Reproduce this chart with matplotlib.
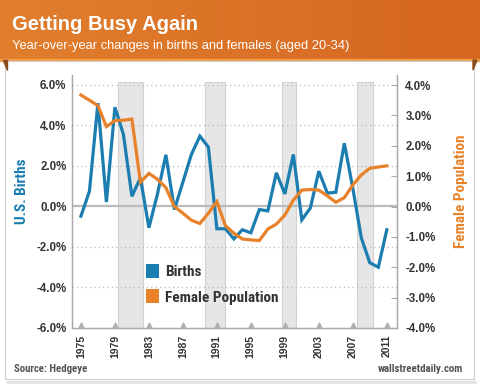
import numpy as np
import matplotlib
matplotlib.use("Agg")
from matplotlib import pyplot as plt
from matplotlib.patches import Patch, Rectangle, Polygon
from matplotlib.colors import LinearSegmentedColormap

years = np.arange(1975, 2012)
births = [-0.48, 0.75, 5.1, 0.22, 4.9, 3.56, 0.5, 1.42, -1.05, 0.6,
          2.55, -0.15, 1.2, 2.57, 3.47, 2.93, -1.1, -1.1, -1.6, -1.15,
          -1.3, -0.15, -0.22, 1.66, 0.62, 2.57, -0.66, -0.08, 1.74, 0.66,
          0.7, 3.12, 0.9, -1.55, -2.78, -3.0, -1.15]
female = [3.67, 3.5, 3.32, 2.63, 2.83, 2.84, 2.88, 0.8, 1.09, 0.9,
          0.62, 0.0, -0.22, -0.45, -0.56, -0.22, 0.16, -0.63, -0.88, -1.07,
          -1.1, -1.12, -0.74, -0.58, -0.28, 0.21, 0.54, 0.56, 0.54, 0.35,
          0.14, 0.29, 0.71, 1.04, 1.26, 1.3, 1.34]
recessions = [(1979.4, 1982.3), (1989.6, 1992.0), (1998.7, 2000.3), (2007.5, 2009.4)]
xticks = list(range(1975, 2012, 4))
left_ticks = [-6, -4, -2, 0, 2, 4, 6]
right_ticks = [-4, -3, -2, -1, 0, 1, 2, 3, 4]

blue = "#1b7db0"
orange = "#e8822a"
dark = "#333333"
grey = "#bbbbbb"
fam = ["Liberation Sans", "DejaVu Sans"]
cond = ["Roboto Condensed", "Liberation Sans", "DejaVu Sans"]

fig = plt.figure(figsize=(4.8, 3.84), dpi=100)
fig.patch.set_facecolor("white")

# decoration: header band and card
bg = fig.add_axes([0, 0, 1, 1])
bg.set_xlim(0, 480)
bg.set_ylim(384, 0)
bg.axis("off")
cmap = LinearSegmentedColormap.from_list("hdr", ["#e17f2e", "#d5651f"])
bg.imshow(np.linspace(0, 1, 256).reshape(1, -1), cmap=cmap, aspect="auto",
          extent=[0, 480, 60, 0], zorder=1)
bg.add_patch(Rectangle((0, 58.5), 480, 2, color="#f0a04a", zorder=2))
bg.add_patch(Rectangle((7, 381), 469, 2, color="#e4e4e4", zorder=1))
bg.add_patch(Rectangle((5, 61), 469, 318, facecolor="white", edgecolor="#cfcfcf", lw=0.8, zorder=2))
bg.add_patch(Polygon([[3, 60], [7, 60], [7, 70]], color="#8a4a1c", zorder=3))
bg.add_patch(Polygon([[473, 60], [477, 60], [473, 70]], color="#8a4a1c", zorder=3))

fig.text(12 / 480, 1 - 25 / 384, "Getting Busy Again", color="white", fontsize=14.5,
         fontweight="bold", family=fam, va="center", ha="left")
fig.text(12 / 480, 1 - 46 / 384, "Year-over-year changes in births and females (aged 20-34)",
         color="white", fontsize=9.3, family=fam, va="center", ha="left")
fig.text(14 / 480, 1 - 369 / 384, "Source: Hedgeye", color="#555555", fontsize=7.8,
         fontweight="bold", family=cond, va="center", ha="left")
fig.text(463 / 480, 1 - 369 / 384, "wallstreetdaily.com", color="#555555", fontsize=7.8,
         fontweight="bold", family=cond, va="center", ha="right")

# main chart
ax = fig.add_axes([72 / 480, 1 - 328 / 384, 325 / 480, 253 / 384])
ax.set_facecolor("none")
ax.set_xlim(1973.95, 2012.2)
ax.set_ylim(-6, 6.49)
top_frac = (6.15 + 6) / 12.49
for a, b in recessions:
    ax.axvspan(a, b, ymin=0, ymax=top_frac, facecolor="#e6e6e6", edgecolor="#d2d2d2", lw=0.8, zorder=0)
for v in left_ticks:
    if v == 0:
        ax.axhline(v, color=grey, lw=1.6, zorder=1)
    elif v != -6:
        ax.axhline(v, color=grey, lw=0.9, ls=(0, (1, 2.5)), zorder=1)
ax.plot(years, births, color=blue, lw=2.3, zorder=3, solid_joinstyle="miter")
ax.set_yticks(left_ticks)
ax.set_yticklabels(["%.1f%%" % v for v in left_ticks])
ax.set_xticks(xticks)
ax.set_xticklabels([str(y) for y in xticks], rotation=90)
ax.tick_params(axis="y", length=0, pad=4, labelsize=8.3, labelcolor=dark)
ax.tick_params(axis="x", length=0, pad=5, labelsize=7.5, labelcolor=dark)
for lab in ax.get_xticklabels() + ax.get_yticklabels():
    lab.set_fontweight("bold")
    lab.set_family(fam)
ax.scatter(xticks, [0.012] * len(xticks), marker="^", s=12, color="#b0b0b0",
           transform=ax.get_xaxis_transform(), clip_on=False, zorder=4)
for s in ["left", "right", "bottom"]:
    ax.spines[s].set_color("#aaaaaa")
    ax.spines[s].set_linewidth(1.0)
ax.spines["top"].set_visible(False)

ax2 = ax.twinx()
ax2.set_ylim(-4, 4.33)
ax2.plot(years, female, color=orange, lw=2.3, zorder=3, solid_joinstyle="miter")
ax2.set_yticks(right_ticks)
ax2.set_yticklabels(["%.1f%%" % v for v in right_ticks])
ax2.tick_params(axis="y", direction="in", length=4, width=0.8, color="#aaaaaa",
                pad=6, labelsize=8.3, labelcolor=dark)
for lab in ax2.get_yticklabels():
    lab.set_fontweight("bold")
    lab.set_family(fam)
for s in ["left", "right", "bottom"]:
    ax2.spines[s].set_color("#aaaaaa")
ax2.spines["top"].set_visible(False)

fig.text(22 / 480, 1 - 191 / 384, "U.S. Births", color=blue, fontsize=11, fontweight="bold",
         family=cond, rotation=90, va="center", ha="center")
fig.text(461 / 480, 1 - 191 / 384, "Female Population", color=orange, fontsize=11,
         fontweight="bold", family=cond, rotation=90, va="center", ha="center")

handles = [Patch(facecolor=blue, edgecolor="none", label="Births"),
           Patch(facecolor=orange, edgecolor="none", label="Female Population")]
leg = fig.legend(handles=handles, loc="upper left", bbox_to_anchor=(146 / 480, 1 - 264 / 384),
                 frameon=False, handlelength=0.87, handleheight=1.0,
                 handletextpad=0.37, labelspacing=0.68, borderpad=0, borderaxespad=0,
                 prop={"family": cond, "weight": "bold", "size": 11})
for t in leg.get_texts():
    t.set_color(dark)

fig.savefig("out.png", dpi=100)
